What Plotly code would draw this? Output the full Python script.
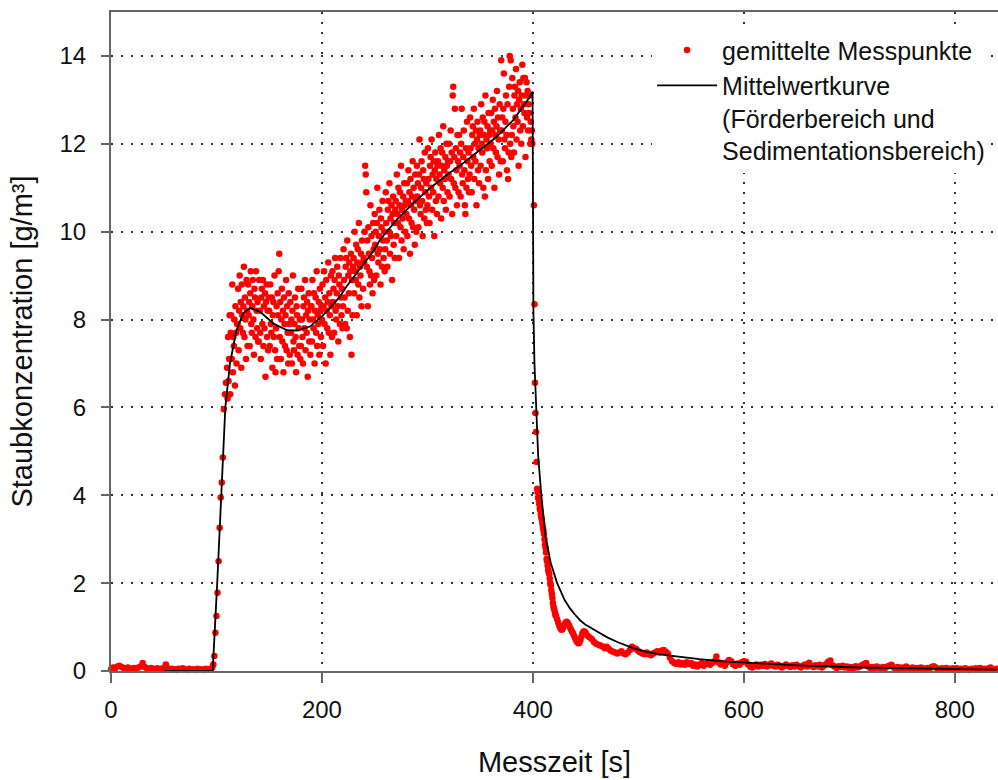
import plotly.graph_objects as go

# ---- data ----
# flat baseline before dosing (every 2 s from t=0)
flat_t0, flat_dt = 0, 2
flat_y = [0.04, 0.08, 0.06, 0.10, 0.12, 0.09, 0.07, 0.05, 0.08, 0.06,
          0.04, 0.07, 0.05, 0.08, 0.10, 0.18, 0.09, 0.06, 0.04, 0.07,
          0.05, 0.03, 0.06, 0.04, 0.05, 0.07, 0.15, 0.06, 0.03, 0.05,
          0.04, 0.02, 0.05, 0.03, 0.06, 0.04, 0.02, 0.05, 0.03, 0.04,
          0.02, 0.05, 0.03, 0.04, 0.02, 0.05, 0.03, 0.04, 0.08]

# steep rise (every 1 s from t=97)
rise_t0, rise_dt = 97, 1
rise_y = [0.15, 0.34, 0.87, 1.25, 1.78, 2.5, 3.26, 3.95, 4.29, 4.86, 5.96, 6.3, 6.56]

# conveying range (every 0.5 s from t=110), one row per 10 s
conv_t0, conv_dt = 110, 0.5
conv_y = [
    6.9, 6.2, 7.6, 6.6, 7.1, 8.1, 6.3, 7.7, 8.1, 7.1, 8.8, 6.8, 7.6, 7.4, 8.0, 6.5, 8.3, 7.7, 7.0, 7.9,
    7.9, 8.7, 7.3, 8.2, 9.0, 7.8, 8.4, 6.9, 8.8, 8.1, 7.7, 8.3, 9.2, 7.6, 8.5, 8.0, 7.1, 8.9, 8.2, 7.4,
    8.8, 8.1, 8.4, 7.4, 8.6, 9.1, 7.9, 7.7, 8.3, 8.9, 8.0, 7.2, 8.7, 8.5, 7.6, 9.1, 8.2, 7.8, 8.4, 7.5,
    7.5, 8.9, 8.2, 7.7, 7.1, 8.5, 8.7, 7.9, 8.9, 7.4, 8.3, 7.8, 8.6, 6.7, 8.4, 8.8, 7.6, 8.2, 7.3, 8.5,
    8.2, 7.4, 8.8, 7.9, 7.7, 8.5, 6.9, 8.1, 8.4, 7.6, 9.0, 7.3, 6.8, 7.8, 8.3, 7.1, 8.6, 8.1, 9.1, 9.5,
    7.6, 8.4, 7.1, 8.0, 8.7, 7.5, 8.2, 6.8, 8.5, 7.9, 7.4, 8.1, 8.9, 7.3, 8.3, 7.7, 7.0, 8.6, 7.9, 7.2,
    8.4, 7.7, 8.0, 7.0, 8.2, 9.0, 7.5, 7.3, 7.9, 8.5, 7.6, 6.8, 8.3, 8.1, 7.2, 8.7, 7.8, 7.4, 8.0, 7.1,
    7.4, 8.7, 8.0, 7.6, 7.0, 8.3, 8.5, 7.8, 8.9, 7.3, 8.1, 7.7, 8.4, 6.7, 8.2, 8.6, 7.5, 8.0, 7.2, 8.3,
    8.3, 7.5, 8.9, 8.0, 7.8, 8.6, 7.0, 8.2, 8.5, 7.7, 9.1, 7.4, 8.1, 7.9, 8.4, 7.2, 8.7, 8.2, 7.6, 8.3,
    8.0, 8.8, 7.4, 8.3, 9.1, 7.9, 8.5, 7.0, 8.9, 8.2, 7.8, 8.4, 9.3, 7.7, 8.6, 8.1, 7.2, 9.0, 8.3, 7.6,
    9.1, 8.4, 8.7, 7.7, 8.9, 9.4, 8.2, 8.0, 8.6, 9.2, 8.3, 7.5, 9.0, 8.8, 7.9, 9.4, 8.5, 8.1, 8.7, 7.8,
    8.3, 9.6, 8.9, 8.5, 7.9, 9.2, 9.4, 7.8, 9.8, 8.2, 9.0, 8.6, 9.3, 7.6, 9.1, 9.5, 7.2, 8.9, 8.1, 9.2,
    9.4, 8.6, 10.0, 9.1, 8.9, 9.7, 8.1, 9.3, 9.6, 8.8, 10.2, 8.5, 9.2, 9.0, 9.5, 8.3, 9.8, 9.3, 8.7, 9.4,
    9.3, 10.0, 11.5, 11.3, 10.9, 9.2, 9.8, 8.3, 10.1, 9.5, 9.1, 8.8, 10.6, 9.0, 9.9, 9.4, 8.6, 10.2, 9.6, 8.9,
    10.4, 9.7, 10.0, 9.0, 10.2, 11.0, 9.5, 9.3, 9.9, 10.5, 9.6, 8.8, 10.3, 10.1, 9.2, 10.7, 9.8, 9.4, 10.0, 9.1,
    9.6, 10.9, 10.2, 9.8, 9.2, 10.5, 10.7, 10.0, 11.1, 9.5, 10.3, 9.9, 10.6, 8.9, 10.4, 10.8, 9.7, 10.2, 9.4, 10.5,
    10.7, 9.9, 11.3, 10.4, 10.2, 11.0, 9.4, 10.6, 10.9, 10.1, 11.5, 9.8, 10.5, 10.3, 10.8, 9.6, 11.1, 10.6, 10.0, 10.7,
    10.4, 11.1, 9.9, 10.7, 11.4, 10.3, 10.9, 9.5, 11.2, 10.6, 10.2, 10.8, 11.6, 10.1, 11.0, 10.5, 9.7, 11.3, 10.7, 10.0,
    11.5, 10.8, 11.1, 10.1, 11.3, 12.1, 10.6, 10.4, 11.0, 11.6, 10.7, 9.9, 11.4, 11.2, 10.3, 11.8, 10.9, 10.5, 11.1, 10.2,
    10.6, 11.9, 11.2, 10.8, 10.2, 11.5, 11.7, 11.0, 12.1, 10.5, 11.3, 10.9, 11.6, 9.9, 11.4, 11.8, 10.7, 11.2, 10.4, 11.5,
    11.6, 10.8, 12.2, 11.3, 11.1, 11.9, 10.3, 11.5, 11.8, 11.0, 12.4, 10.7, 11.4, 11.2, 11.7, 10.5, 12.0, 11.5, 10.9, 11.6,
    11.3, 12.0, 10.8, 11.6, 12.3, 11.2, 11.8, 10.4, 13.1, 13.3, 11.1, 11.7, 12.8, 11.0, 11.9, 11.4, 10.6, 12.2, 11.6, 10.9,
    12.2, 11.5, 11.8, 10.8, 12.0, 12.8, 11.3, 11.1, 11.7, 12.3, 11.4, 10.6, 10.4, 11.9, 11.0, 12.5, 11.6, 11.2, 11.8, 10.9,
    11.3, 12.6, 11.9, 11.5, 10.9, 12.2, 12.4, 11.7, 12.8, 11.2, 12.0, 11.6, 12.3, 10.6, 12.1, 12.5, 11.4, 11.9, 11.1, 12.2,
    12.3, 11.5, 12.9, 12.0, 11.8, 12.6, 11.0, 12.2, 12.5, 10.8, 13.1, 11.4, 12.1, 11.9, 12.4, 11.2, 12.7, 12.2, 11.6, 12.3,
    12.0, 12.7, 11.5, 12.3, 13.0, 11.9, 12.5, 11.0, 12.8, 12.2, 11.8, 12.4, 13.2, 11.7, 12.6, 12.1, 11.3, 12.9, 12.3, 11.6,
    13.9, 12.3, 12.6, 11.6, 12.8, 13.6, 12.1, 11.9, 12.5, 13.1, 12.2, 11.4, 12.9, 11.2, 11.8, 13.3, 14.0, 12.0, 13.9, 11.7,
    12.2, 13.5, 12.8, 12.4, 11.8, 13.1, 13.3, 12.6, 13.7, 12.1, 12.9, 12.5, 13.2, 11.5, 13.0, 13.4, 12.3, 12.8, 12.0, 13.1,
    13.8, 12.4, 13.5, 12.9, 12.7, 13.5, 11.7, 13.1, 13.4, 12.6, 13.2, 12.3, 12.9, 12.7, 13.1, 12.0, 12.5, 12.1, 12.3, 12.0]

# drop after dosing stops (every 0.5 s from t=401)
drop_t0, drop_dt = 401, 0.5
drop_y = [10.6, 8.35, 6.56, 5.87, 5.44, 4.76]

# start of sedimentation (every 0.5 s from t=404)
seda_t0, seda_dt = 404, 0.5
seda_y = [4.15, 4.07, 3.95, 3.9, 3.8, 3.7, 3.66, 3.57, 3.5, 3.44,
          3.35, 3.26, 3.2, 3.12, 3.0, 2.88, 2.8, 2.7, 2.55, 2.5,
          2.4, 2.3, 2.25, 2.2, 2.1, 2.0, 1.95, 1.84, 1.75, 1.66,
          1.55, 1.47, 1.42, 1.38, 1.32, 1.27]

# sedimentation (every 1 s from t=422)
sedb_t0, sedb_dt = 422, 1
sedb_y = [1.25, 1.18, 1.1, 1.03, 0.98, 0.94, 0.95, 1.0, 1.06, 1.1,
          1.12, 1.1, 1.05, 1.0, 0.95, 0.9, 0.86, 0.8, 0.75, 0.7,
          0.66, 0.63, 0.64, 0.7, 0.78, 0.86, 0.9, 0.9, 0.87]

# late sedimentation (every 2 s from t=452)
sedc_t0, sedc_dt = 452, 2
sedc_y = [
    0.8, 0.76, 0.72, 0.66, 0.62, 0.6, 0.58, 0.56, 0.52, 0.55,
    0.5, 0.46, 0.44, 0.42, 0.4, 0.42, 0.45, 0.4, 0.38, 0.42,
    0.48, 0.55, 0.52, 0.5, 0.45, 0.42, 0.4, 0.38, 0.42, 0.38,
    0.36, 0.4, 0.42, 0.45, 0.42, 0.46, 0.48, 0.44, 0.4, 0.3,
    0.22, 0.18, 0.16, 0.2, 0.15, 0.18, 0.14, 0.2, 0.16, 0.18,
    0.12, 0.15, 0.10, 0.14, 0.18, 0.12, 0.16, 0.20, 0.14, 0.18,
    0.22, 0.33, 0.20, 0.15, 0.18, 0.12, 0.20, 0.25, 0.22, 0.15,
    0.12, 0.17, 0.14, 0.20, 0.22, 0.21, 0.15, 0.10, 0.08, 0.12,
    0.15, 0.10, 0.14, 0.12, 0.16, 0.10, 0.13, 0.17, 0.12, 0.10,
    0.14, 0.12, 0.08, 0.11, 0.15, 0.12, 0.09, 0.13, 0.10, 0.14,
    0.11, 0.08, 0.12, 0.15, 0.10, 0.19, 0.12, 0.09, 0.13, 0.10,
    0.14, 0.08, 0.12, 0.16, 0.21, 0.24, 0.13, 0.10, 0.07, 0.11,
    0.09, 0.12, 0.08, 0.10, 0.06, 0.09, 0.07, 0.11, 0.08, 0.10,
    0.13, 0.16, 0.18, 0.10, 0.07, 0.09, 0.06, 0.10, 0.08, 0.05,
    0.09, 0.07, 0.10, 0.12, 0.14, 0.08, 0.06, 0.09, 0.05, 0.08,
    0.06, 0.10, 0.07, 0.05, 0.08, 0.04, 0.07, 0.05, 0.08, 0.06,
    0.04, 0.07, 0.05, 0.09, 0.11, 0.08, 0.05, 0.03, 0.06, 0.04,
    0.07, 0.05, 0.03, 0.06, 0.04, 0.06, 0.02, 0.05, 0.03, 0.06,
    0.04, 0.02, 0.05, 0.03, 0.06, 0.04, 0.07, 0.03, 0.05, 0.04,
    0.06, 0.08, 0.04, 0.03, 0.05]

# mean-value curve (conveying + sedimentation range)
curve_t = [51, 96.4, 100.7, 104.3, 108.4, 112.8, 119, 125.4, 131.8, 141.2,
           153.9, 166.5, 175.9, 188.6, 201.2, 207.6, 217, 223.3, 232.8, 239.2,
           248.6, 255, 270.8, 286.6, 302.4, 318.2, 334, 349.8, 365.6, 381.4,
           397.2, 399.7, 400.5, 401.5, 403.5, 405, 408, 412, 417, 423,
           430, 435, 440, 445, 450, 456, 463, 471, 480, 495,
           507, 520, 538, 558, 580, 600, 650, 710, 780, 840]
curve_c = [0, 0, 2, 4, 6, 7, 7.76, 8.14, 8.26, 8.18,
           7.91, 7.76, 7.75, 7.84, 8.1, 8.26, 8.52, 8.75, 9.05, 9.28,
           9.55, 9.81, 10.27, 10.65, 10.99, 11.29, 11.56, 11.86, 12.16, 12.54,
           13.07, 13.19, 8.2, 7.0, 5.7, 4.9, 4.0, 3.05, 2.45, 2.0,
           1.62, 1.43, 1.28, 1.15, 1.05, 0.96, 0.87, 0.76, 0.66, 0.52,
           0.44, 0.38, 0.32, 0.27, 0.22, 0.19, 0.13, 0.08, 0.05, 0.03]

x_ticks = [0, 200, 400, 600, 800]
y_ticks = [0, 2, 4, 6, 8, 10, 12, 14]

# ---- assemble measured points ----
pts_t, pts_y = [], []
for t0, dt, ys in [(flat_t0, flat_dt, flat_y), (rise_t0, rise_dt, rise_y),
                   (conv_t0, conv_dt, conv_y), (drop_t0, drop_dt, drop_y),
                   (seda_t0, seda_dt, seda_y), (sedb_t0, sedb_dt, sedb_y),
                   (sedc_t0, sedc_dt, sedc_y)]:
    for i, v in enumerate(ys):
        pts_t.append(t0 + dt * i)
        pts_y.append(v)

FONT = "Liberation Sans, Arial, Helvetica, sans-serif"
AX = "#666666"
TXT = "#111111"

fig = go.Figure()
fig.add_trace(go.Scatter(
    x=pts_t, y=pts_y, mode="markers", name="gemittelte Messpunkte",
    marker=dict(color="#ff0000", size=6.5, line=dict(width=0)),
    cliponaxis=False))
fig.add_trace(go.Scatter(
    x=curve_t, y=curve_c, mode="lines",
    name="Mittelwertkurve<br>(Förderbereich und<br>Sedimentationsbereich)",
    line=dict(color="#000000", width=1.8), cliponaxis=False))

fig.update_layout(
    width=998, height=780,
    margin=dict(l=111, r=0, t=12, b=109),
    paper_bgcolor="white", plot_bgcolor="white",
    font=dict(family=FONT, size=24, color=TXT),
    showlegend=True,
    legend=dict(x=0.61, y=0.977, xanchor="left", yanchor="top",
                bgcolor="white", borderwidth=0, valign="top",
                itemwidth=60, font=dict(size=25, color=TXT),
                tracegroupgap=0),
)
fig.update_xaxes(
    range=[0, 841], tickvals=x_ticks, ticktext=[str(v) for v in x_ticks],
    showline=True, linecolor=AX, linewidth=2, mirror=True,
    ticks="outside", ticklen=10, tickwidth=1.5, tickcolor=AX,
    showgrid=True, gridcolor="#333333", gridwidth=2, griddash="2px,8px",
    zeroline=False, automargin=False, ticklabelstandoff=6,
    tickfont=dict(size=24, color=TXT),
    title=dict(text="Messzeit [s]", font=dict(size=29, color=TXT), standoff=30))
fig.update_yaxes(
    range=[0, 15], tickvals=y_ticks, ticktext=[str(v) for v in y_ticks],
    showline=True, linecolor=AX, linewidth=2,
    ticks="outside", ticklen=8, tickwidth=1.5, tickcolor=AX,
    showgrid=True, gridcolor="#333333", gridwidth=2, griddash="2px,8px",
    zeroline=False, automargin=False, ticklabelstandoff=10,
    tickfont=dict(size=24, color=TXT),
    title=dict(text="Staubkonzentration [g/m³]", font=dict(size=29, color=TXT), standoff=18))

fig.write_html("out.html")
